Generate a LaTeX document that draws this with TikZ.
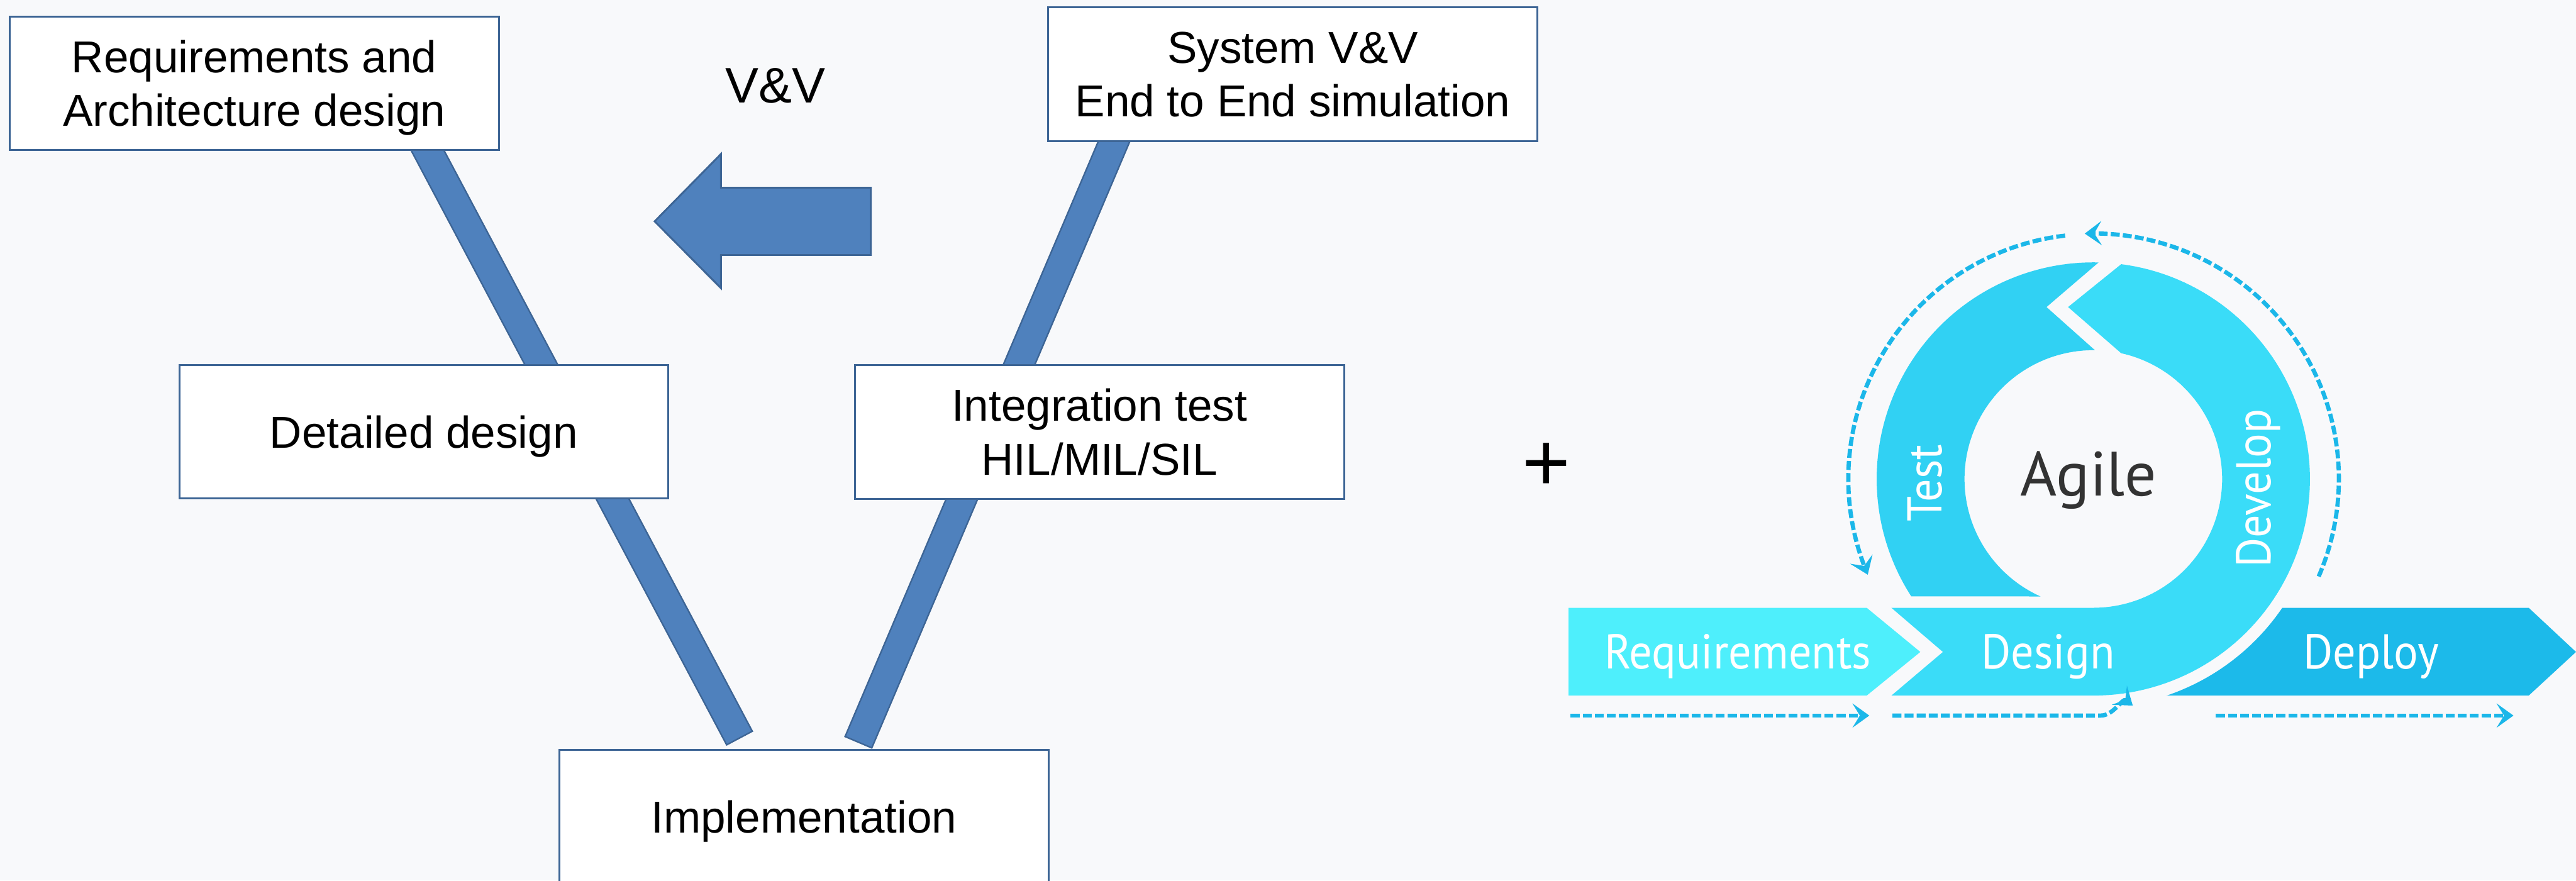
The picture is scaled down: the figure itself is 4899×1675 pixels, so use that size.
\documentclass[tikz,border=0pt]{standalone}
\usepackage{fontspec}
\setmainfont{Liberation Sans}
\newfontfamily\agilefont[FakeStretch=0.93]{PT Sans}
\newfontfamily\titlefont{PT Sans}
\usetikzlibrary{arrows.meta,backgrounds}

\definecolor{bgcol}{HTML}{F8F9FB}
\definecolor{boxline}{HTML}{3D6595}
\definecolor{barfill}{HTML}{4F81BD}
\definecolor{reqcol}{HTML}{4EEFFC}
\definecolor{descol}{HTML}{3ADCF8}
\definecolor{testcol}{HTML}{31D1F3}
\definecolor{depcol}{HTML}{1CBAEA}
\definecolor{dashcol}{HTML}{1BB7E9}
\definecolor{agiletext}{HTML}{333333}

\begin{document}
\begin{tikzpicture}[x=1pt,y=-1pt,
  vbox/.style={draw=boxline, fill=white, line width=3.5pt,
    minimum width=930pt, minimum height=254pt, inner sep=0pt,
    align=center, text depth=0pt, font=\fontsize{85}{102}\selectfont},
  armbar/.style={line width=58pt, draw=boxline},
  armfill/.style={line width=52pt, draw=barfill, shorten >=3pt},
  stagelabel/.style={text=white, inner sep=0pt, anchor=base,
    font=\agilefont\fontsize{93}{100}\selectfont},
  flow/.style={draw=dashcol, line width=8pt, dash pattern=on 17pt off 6pt,
    -{Stealth[length=32pt,width=46pt,inset=14pt]}},
]
\useasboundingbox (0,0) rectangle (4899,1675);

% ---------------- V-model ----------------
\node[vbox] (req)   at (483.5,158.5) {Requirements and\\Architecture design};
\node[vbox] (sys)   at (2458.5,141)  {System V\&V\\End to End simulation};
\node[vbox] (det)   at (806,821)     {Detailed design};
\node[vbox] (integ) at (2091,821.5)  {Integration test\\HIL/MIL/SIL};
\node[vbox] (impl)  at (1529,1553.5) {Implementation};

\node[anchor=base, inner sep=0pt, font=\fontsize{95}{110}\selectfont]
  (vvlabel) at (1475,195) {V\&V};

% verification arrow pointing back to the design side
\filldraw[fill=barfill, draw=boxline, line width=3.5pt, line join=miter]
  (1656,357) -- (1371,357) -- (1371,293) -- (1245,421) -- (1371,548)
  -- (1371,485) -- (1656,485) -- cycle;

\node[anchor=base, inner sep=0pt, font=\fontsize{157}{160}\selectfont]
  (plus) at (2941,934) {+};

% the two arms of the V run behind the boxes
\begin{scope}[on background layer]
  \fill[bgcol] (0,0) rectangle (4899,1675);
  \coordinate (ltop) at (794,250);
  \coordinate (lend) at (1407,1405);
  \coordinate (rtop) at (2131,240);
  \coordinate (rend) at (1632,1413);
  \draw[armbar] (ltop) -- (lend);
  \draw[armfill] (ltop) -- (lend);
  \draw[armbar] (rtop) -- (rend);
  \draw[armfill] (rtop) -- (rend);
\end{scope}

% ---------------- Agile loop ----------------
\def\cx{3981}
\def\cy{911}

% Requirements chevron
\fill[reqcol] (2983,1156) -- (3550,1156) -- (3652,1240) -- (3550,1323)
  -- (2983,1323) -- cycle;

% Design bar rising into Develop
\fill[descol] (3597,1156) -- (3695,1240) -- (3597,1323) -- (3981,1323)
  -- plot[domain=90:-82.6, samples=90, variable=\t]
       ({\cx+412*cos(\t)},{\cy+412*sin(\t)})
  -- (3933,584)
  -- plot[domain=-77.5:90, samples=90, variable=\t]
       ({\cx+245*cos(\t)},{\cy+245*sin(\t)})
  -- cycle;

% Test segment on the left of the loop
\fill[testcol]
  plot[domain=-88.6:-212.8, samples=90, variable=\t]
    ({\cx+412*cos(\t)},{\cy+412*sin(\t)})
  -- plot[domain=-245.8:-89.3, samples=90, variable=\t]
    ({\cx+245*cos(\t)},{\cy+245*sin(\t)})
  -- (3892,584) -- cycle;

% Deploy chevron
\fill[depcol] (4340,1156) -- (4809,1156) -- (4899,1240) -- (4809,1323)
  -- (4120,1323)
  -- plot[domain=71.3:34.3, samples=40, variable=\t]
       ({\cx+435*cos(\t)},{\cy+435*sin(\t)})
  -- cycle;

\node[stagelabel] (reqlbl) at (3305,1272) {Requirements};
\node[stagelabel] (deslbl) at (3895,1272) {Design};
\node[stagelabel] (deplbl) at (4509,1272) {Deploy};
\node[stagelabel, rotate=90] (testlbl) at (3693,919) {Test};
\node[stagelabel, rotate=90] (devlbl) at (4318,929) {Develop};
\node[anchor=base, inner sep=0pt, text=agiletext,
  font=\titlefont\fontsize{119}{122}\selectfont] (agile) at (3972,943) {Agile};

% dashed flow arrows
\coordinate (f1a) at (2987,1361);  \coordinate (f1b) at (3555,1361);
\coordinate (f2a) at (3599,1361);  \coordinate (f2m) at (3995,1361);
\coordinate (f2b) at (4056,1342);
\coordinate (f3a) at (4214,1361);  \coordinate (f3b) at (4780,1361);
\draw[flow] (f1a) -- (f1b);
\draw[flow] (f2a) -- (f2m) to[out=0,in=142] (f2b);
\draw[flow] (f3a) -- (f3b);

\draw[flow] plot[domain=-96.6:-203, samples=120, variable=\t]
  ({\cx+466*cos(\t)},{\cy+466*sin(\t)});
\draw[flow] plot[domain=23.4:-92, samples=120, variable=\t]
  ({\cx+467*cos(\t)},{\cy+467*sin(\t)});

\end{tikzpicture}
\end{document}
